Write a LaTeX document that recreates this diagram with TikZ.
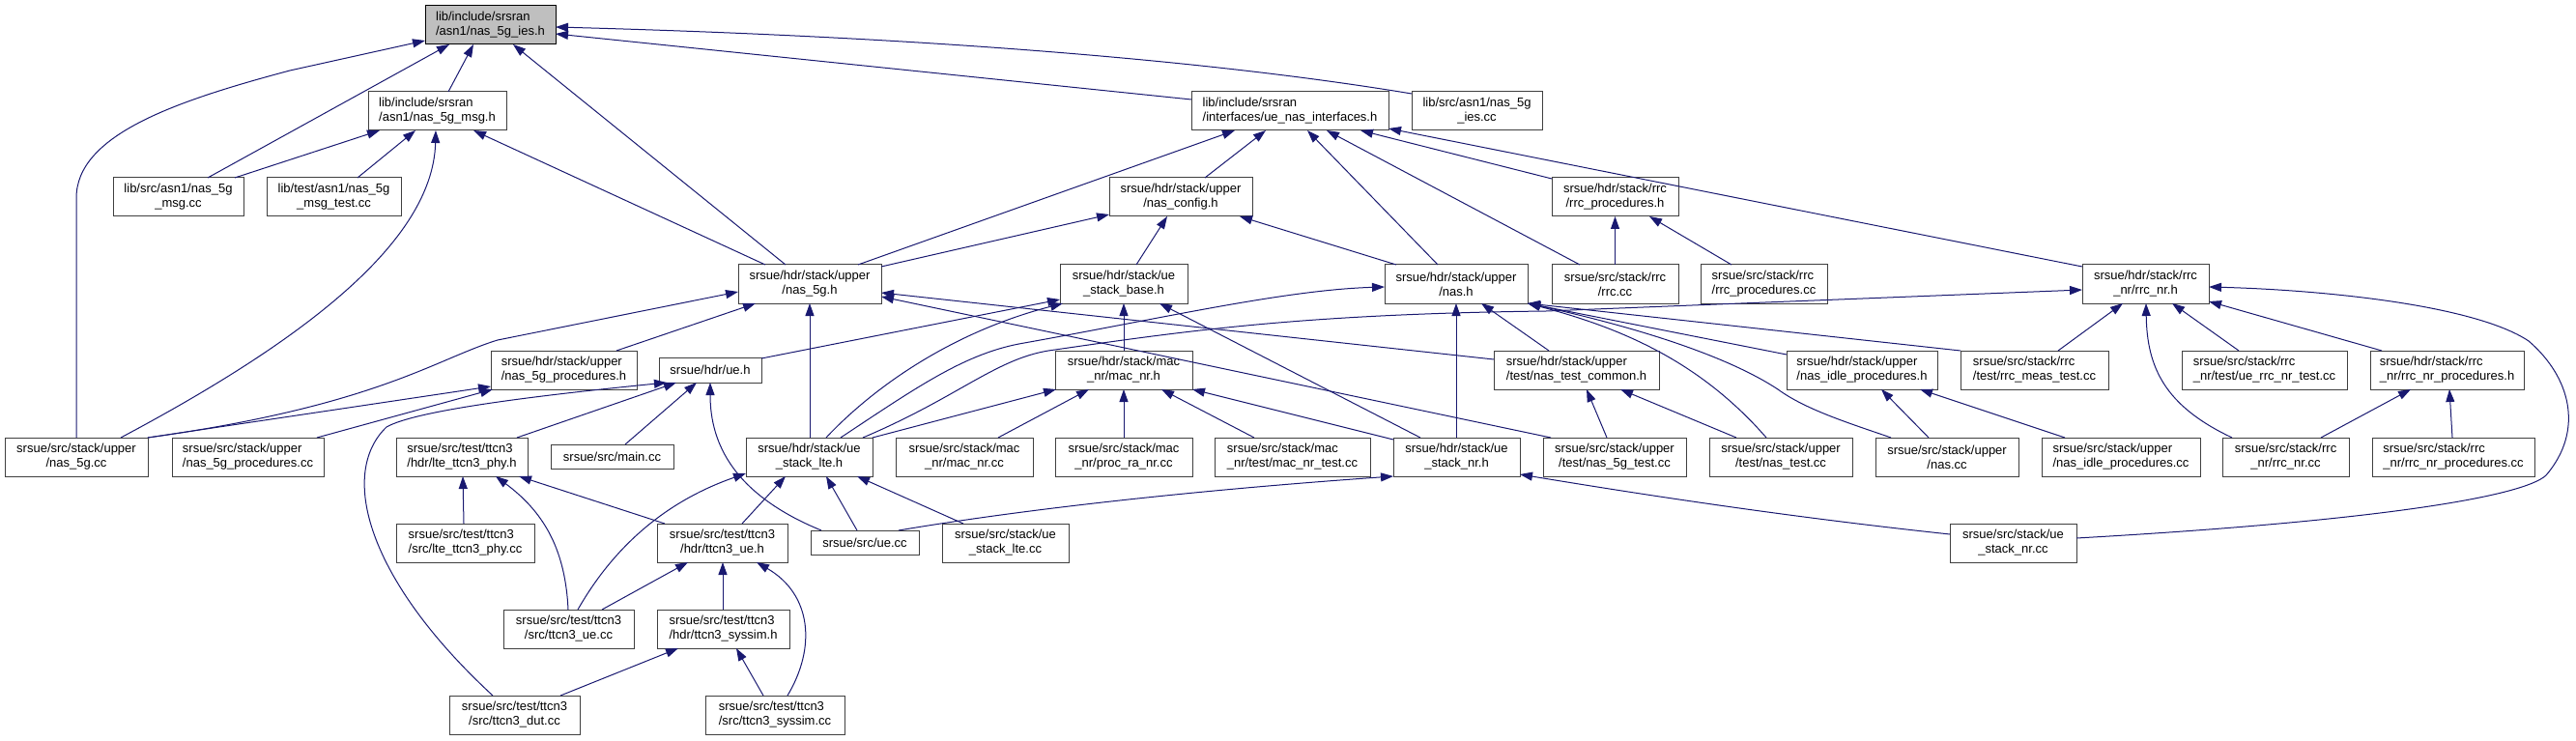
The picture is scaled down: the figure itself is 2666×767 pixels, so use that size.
\documentclass[tikz,border=0pt]{standalone}
\usepackage{fontspec}
\setmainfont{Liberation Sans}
\usetikzlibrary{arrows.meta}
\definecolor{edgec}{HTML}{191970}
\definecolor{boxc}{HTML}{404040}
\definecolor{rootf}{HTML}{BFBFBF}
\tikzset{
 box/.style={rectangle, draw=boxc, line width=1pt, fill=white, inner sep=0pt, outer sep=0pt, font=\fontsize{13}{15}\selectfont, align=center},
 dep/.style={draw=edgec, line width=1pt, -{Triangle[length=13pt,width=9pt]}},
}
\newcommand\bx[7][]{\node[box,#1,minimum width={#5-#3},minimum height={#6-#4}] (#2) at ({(#3+#5)/2},{(#4+#6)/2}) {#7};}
\begin{document}
\begin{tikzpicture}[x=1pt,y=-1pt]
\useasboundingbox (0,0) rectangle (2666,767);
\bx[align=left,fill=rootf,draw=black]{root}{440}{6}{575}{46}{lib/include/srsran\\/asn1/nas\_5g\_ies.h}
\bx[align=left]{msgh}{381}{95}{524}{135}{lib/include/srsran\\/asn1/nas\_5g\_msg.h}
\bx[align=left]{uenasif}{1233}{95}{1437}{135}{lib/include/srsran\\/interfaces/ue\_nas\_interfaces.h}
\bx{iescc}{1461}{95}{1596}{135}{lib/src/asn1/nas\_5g\\\_ies.cc}
\bx{msgcc}{117}{184}{252}{224}{lib/src/asn1/nas\_5g\\\_msg.cc}
\bx{msgtest}{276}{184}{415}{224}{lib/test/asn1/nas\_5g\\\_msg\_test.cc}
\bx{nascfg}{1148}{184}{1296}{224}{srsue/hdr/stack/upper\\/nas\_config.h}
\bx{rrcproch}{1606}{184}{1737}{224}{srsue/hdr/stack/rrc\\/rrc\_procedures.h}
\bx{nasfgh}{764}{274}{912}{314}{srsue/hdr/stack/upper\\/nas\_5g.h}
\bx{stkbase}{1097}{274}{1229}{314}{srsue/hdr/stack/ue\\\_stack\_base.h}
\bx{nash}{1433}{274}{1581}{314}{srsue/hdr/stack/upper\\/nas.h}
\bx{rrccc}{1606}{274}{1737}{314}{srsue/src/stack/rrc\\/rrc.cc}
\bx[align=left]{rrcproccc}{1760}{274}{1891}{314}{srsue/src/stack/rrc\\/rrc\_procedures.cc}
\bx{rrcnrh}{2155}{274}{2286}{314}{srsue/hdr/stack/rrc\\\_nr/rrc\_nr.h}
\bx[align=left]{fgproch}{508}{363}{659}{403}{srsue/hdr/stack/upper\\/nas\_5g\_procedures.h}
\bx{ueh}{682}{370}{788}{396}{srsue/hdr/ue.h}
\bx{macnrh}{1092}{363}{1234}{403}{srsue/hdr/stack/mac\\\_nr/mac\_nr.h}
\bx[align=left]{testcommon}{1546}{363}{1717}{403}{srsue/hdr/stack/upper\\/test/nas\_test\_common.h}
\bx[align=left]{idleh}{1849}{363}{2005}{403}{srsue/hdr/stack/upper\\/nas\_idle\_procedures.h}
\bx[align=left]{meastest}{2029}{363}{2182}{403}{srsue/src/stack/rrc\\/test/rrc\_meas\_test.cc}
\bx[align=left]{uerrcnrtest}{2258}{363}{2429}{403}{srsue/src/stack/rrc\\\_nr/test/ue\_rrc\_nr\_test.cc}
\bx[align=left]{rrcnrproch}{2453}{363}{2612}{403}{srsue/hdr/stack/rrc\\\_nr/rrc\_nr\_procedures.h}
\bx{fgcc}{5}{453}{153}{493}{srsue/src/stack/upper\\/nas\_5g.cc}
\bx[align=left]{fgproccc}{178}{453}{335}{493}{srsue/src/stack/upper\\/nas\_5g\_procedures.cc}
\bx[align=left]{ltephyh}{410}{453}{546}{493}{srsue/src/test/ttcn3\\/hdr/lte\_ttcn3\_phy.h}
\bx{maincc}{570}{460}{697}{485}{srsue/src/main.cc}
\bx{stklteh}{772}{453}{903}{493}{srsue/hdr/stack/ue\\\_stack\_lte.h}
\bx{macnrcc}{927}{453}{1069}{493}{srsue/src/stack/mac\\\_nr/mac\_nr.cc}
\bx{procra}{1092}{453}{1234}{493}{srsue/src/stack/mac\\\_nr/proc\_ra\_nr.cc}
\bx[align=left]{macnrtest}{1257}{453}{1418}{493}{srsue/src/stack/mac\\\_nr/test/mac\_nr\_test.cc}
\bx{stknrh}{1442}{453}{1573}{493}{srsue/hdr/stack/ue\\\_stack\_nr.h}
\bx{fgtest}{1597}{453}{1745}{493}{srsue/src/stack/upper\\/test/nas\_5g\_test.cc}
\bx{nastest}{1769}{453}{1917}{493}{srsue/src/stack/upper\\/test/nas\_test.cc}
\bx{nascc}{1941}{453}{2089}{493}{srsue/src/stack/upper\\/nas.cc}
\bx[align=left]{idlecc}{2113}{453}{2277}{493}{srsue/src/stack/upper\\/nas\_idle\_procedures.cc}
\bx{rrcnrcc}{2300}{453}{2431}{493}{srsue/src/stack/rrc\\\_nr/rrc\_nr.cc}
\bx[align=left]{rrcnrproccc}{2455}{453}{2623}{493}{srsue/src/stack/rrc\\\_nr/rrc\_nr\_procedures.cc}
\bx[align=left]{ltephycc}{410}{542}{553}{582}{srsue/src/test/ttcn3\\/src/lte\_ttcn3\_phy.cc}
\bx{ttuh}{680}{542}{815}{582}{srsue/src/test/ttcn3\\/hdr/ttcn3\_ue.h}
\bx{uecc}{839}{549}{951}{574}{srsue/src/ue.cc}
\bx{stkltecc}{975}{542}{1106}{582}{srsue/src/stack/ue\\\_stack\_lte.cc}
\bx{stknrcc}{2018}{542}{2149}{582}{srsue/src/stack/ue\\\_stack\_nr.cc}
\bx{ttucc}{521}{631}{656}{671}{srsue/src/test/ttcn3\\/src/ttcn3\_ue.cc}
\bx[align=left]{syssimh}{680}{631}{817}{671}{srsue/src/test/ttcn3\\/hdr/ttcn3\_syssim.h}
\bx{dutcc}{465}{720}{600}{760}{srsue/src/test/ttcn3\\/src/ttcn3\_dut.cc}
\bx[align=left]{syssimcc}{730}{720}{874}{760}{srsue/src/test/ttcn3\\/src/ttcn3\_syssim.cc}
% edges
\draw[dep] ([xshift=83pt]msgh.north west) -- ([xshift=50pt]root.south west);
\draw[dep] ([xshift=98pt]msgcc.north west) -- ([xshift=25pt]root.south west);
\draw[dep] ([xshift=74pt]fgcc.north west) -- (79,205) .. controls (79,140) and (180,105) .. (300,73) -- ([yshift=-36pt]root.north west);
\draw[dep] ([xshift=49pt]nasfgh.north west) -- ([xshift=91pt]root.south west);
\draw[dep] ([yshift=-8pt]uenasif.north west) -- ([yshift=-29pt]root.north east);
\draw[dep] ([yshift=-2pt]iescc.north west) .. controls (1250,62) and (950,38) .. ([yshift=-22pt]root.north east);
\draw[dep] ([xshift=126pt]msgcc.north west) -- ([xshift=12pt]msgh.south west);
\draw[dep] ([xshift=94pt]msgtest.north west) -- ([xshift=49pt]msgh.south west);
\draw[dep] ([xshift=120pt]fgcc.north west) .. controls (300,360) and (448,255) .. ([xshift=70pt]msgh.south west);
\draw[dep] ([xshift=28pt]nasfgh.north west) -- ([xshift=109pt]msgh.south west);
\draw[dep] ([xshift=124pt]nasfgh.north west) -- ([xshift=45pt]uenasif.south west);
\draw[dep] ([xshift=99pt]nascfg.north west) -- ([xshift=77pt]uenasif.south west);
\draw[dep] ([xshift=55pt]nash.north west) -- ([xshift=120pt]uenasif.south west);
\draw[dep] ([xshift=29pt]rrccc.north west) -- ([xshift=140pt]uenasif.south west);
\draw[dep] ([yshift=-1pt]rrcproch.north west) -- ([xshift=175pt]uenasif.south west);
\draw[dep] ([yshift=-2pt]rrcnrh.north west) -- ([yshift=-38pt]uenasif.north east);
\draw[dep] ([yshift=-2pt]nasfgh.north east) -- ([yshift=2pt]nascfg.south west);
\draw[dep] ([xshift=79pt]stkbase.north west) -- ([xshift=60pt]nascfg.south west);
\draw[dep] ([xshift=12pt]nash.north west) -- ([xshift=135pt]nascfg.south west);
\draw[dep] (rrccc.north) -- (rrcproch.south);
\draw[dep] ([xshift=32pt]rrcproccc.north west) -- ([xshift=101pt]rrcproch.south west);
\draw[dep] ([xshift=130pt]fgproch.north west) -- ([xshift=18pt]nasfgh.south west);
\draw[dep] ([xshift=66pt]stklteh.north west) -- ([xshift=74pt]nasfgh.south west);
\draw[dep] (fgcc.north east) .. controls (390,420) and (450,372) .. (515,352) -- ([yshift=-28pt]nasfgh.north west);
\draw[dep] ([yshift=-9pt]testcommon.north west) -- ([yshift=-29pt]nasfgh.north east);
\draw[dep] ([xshift=8pt]fgtest.north west) -- ([yshift=-33pt]nasfgh.north east);
\draw[dep] ([yshift=-1pt]ueh.north east) -- ([yshift=-36pt]stkbase.north west);
\draw[dep] ([xshift=83pt]stklteh.north west) .. controls (900,405) and (980,345) .. ([xshift=3pt]stkbase.south west);
\draw[dep] (macnrh.north) -- (stkbase.south);
\draw[dep] ([xshift=28pt]stknrh.north west) -- ([xshift=103pt]stkbase.south west);
\draw[dep] ([xshift=98pt]stklteh.north west) .. controls (950,400) and (1000,365) .. (1060,355) .. controls (1200,330) and (1330,300) .. ([yshift=-23pt]nash.north west);
\draw[dep] ([xshift=65pt]stknrh.north west) -- ([xshift=74pt]nash.south west);
\draw[dep] ([xshift=57pt]testcommon.north west) -- ([xshift=100pt]nash.south west);
\draw[dep] (meastest.north west) -- (nash.south east);
\draw[dep] ([yshift=-4pt]idleh.north west) -- (nash.south east);
\draw[dep] ([xshift=59pt]nastest.north west) .. controls (1760,375) and (1680,340) .. (nash.south east);
\draw[dep] ([xshift=16pt]nascc.north west) .. controls (1920,440) and (1870,425) .. (1840,403) .. controls (1790,370) and (1700,340) .. (nash.south east);
\draw[dep] ([xshift=101pt]meastest.north west) -- ([xshift=42pt]rrcnrh.south west);
\draw[dep] ([xshift=121pt]stklteh.north west) .. controls (990,412) and (1030,372) .. (1085,363) .. controls (1230,342) and (1350,325) .. (1600,322) -- ([yshift=-26pt]rrcnrh.north west);
\draw[dep] ([xshift=10pt]rrcnrcc.north west) .. controls (2240,420) and (2222,380) .. ([xshift=66pt]rrcnrh.south west);
\draw[dep] ([xshift=59pt]uerrcnrtest.north west) -- ([xshift=93pt]rrcnrh.south west);
\draw[dep] ([xshift=12pt]rrcnrproch.north west) -- ([yshift=2pt]rrcnrh.south east);
\draw[dep] ([yshift=-15pt]stknrcc.north east) .. controls (2450,540) and (2610,515) .. (2635,492) .. controls (2675,445) and (2660,390) .. (2617,353) .. controls (2560,315) and (2400,300) .. ([yshift=-23pt]rrcnrh.north east);
\draw[dep] ([xshift=102pt]rrcnrcc.north west) -- ([xshift=42pt]rrcnrproch.south west);
\draw[dep] ([xshift=83pt]rrcnrproccc.north west) -- ([xshift=82pt]rrcnrproch.south west);
\draw[dep] ([xshift=66pt]fgtest.north west) -- ([xshift=96pt]testcommon.south west);
\draw[dep] ([xshift=28pt]nastest.north west) -- ([xshift=131pt]testcommon.south west);
\draw[dep] ([xshift=55pt]nascc.north west) -- ([xshift=98pt]idleh.south west);
\draw[dep] ([xshift=24pt]idlecc.north west) -- ([xshift=138pt]idleh.south west);
\draw[dep] ([xshift=91pt]uecc.north west) .. controls (1030,532) and (1200,510) .. (stknrh.south west);
\draw[dep] ([yshift=-11pt]stknrcc.north west) .. controls (1850,535) and (1700,512) .. ([yshift=2pt]stknrh.south east);
\draw[dep] ([yshift=-2pt]stknrh.north west) -- (macnrh.south east);
\draw[dep] (stklteh.north east) -- ([xshift=1pt]macnrh.south west);
\draw[dep] ([xshift=106pt]macnrcc.north west) -- ([xshift=35pt]macnrh.south west);
\draw[dep] (procra.north) -- (macnrh.south);
\draw[dep] ([xshift=41pt]macnrtest.north west) -- ([xshift=110pt]macnrh.south west);
\draw[dep] ([xshift=125pt]ltephyh.north west) -- ([xshift=18pt]ueh.south west);
\draw[dep] ([xshift=45pt]dutcc.north west) .. controls (380,600) and (350,490) .. (400,442) .. controls (430,425) and (550,410) .. ([xshift=8pt]ueh.south west);
\draw[dep] ([xshift=77pt]maincc.north west) -- ([xshift=39pt]ueh.south west);
\draw[dep] ([xshift=11pt]uecc.north west) .. controls (760,512) and (735,460) .. ([xshift=53pt]ueh.south west);
\draw[dep] ([xshift=70pt]ltephycc.north west) -- ([xshift=69pt]ltephyh.south west);
\draw[dep] ([xshift=67pt]ttucc.north west) .. controls (585,565) and (560,528) .. ([xshift=103pt]ltephyh.south west);
\draw[dep] ([xshift=8pt]ttuh.north west) -- ([xshift=127pt]ltephyh.south west);
\draw[dep] ([xshift=102pt]ttucc.north west) -- ([xshift=32pt]ttuh.south west);
\draw[dep] ([xshift=68pt]syssimh.north west) -- ([xshift=68pt]ttuh.south west);
\draw[dep] ([xshift=85pt]syssimcc.north west) .. controls (845,670) and (840,615) .. ([xshift=103pt]ttuh.south west);
\draw[dep] ([xshift=115pt]dutcc.north west) -- ([xshift=22pt]syssimh.south west);
\draw[dep] ([xshift=60pt]syssimcc.north west) -- ([xshift=82pt]syssimh.south west);
\draw[dep] ([xshift=77pt]ttucc.north west) .. controls (630,575) and (680,522) .. ([yshift=-37pt]stklteh.north west);
\draw[dep] ([xshift=88pt]ttuh.north west) -- ([xshift=41pt]stklteh.south west);
\draw[dep] ([xshift=48pt]uecc.north west) -- ([xshift=83pt]stklteh.south west);
\draw[dep] ([xshift=22pt]stkltecc.north west) -- ([xshift=115pt]stklteh.south west);
\draw[dep] (fgcc.north east) -- ([yshift=-37pt]fgproch.north west);
\draw[dep] ([xshift=150pt]fgproccc.north west) -- ([xshift=2pt]fgproch.south west);
\end{tikzpicture}
\end{document}
